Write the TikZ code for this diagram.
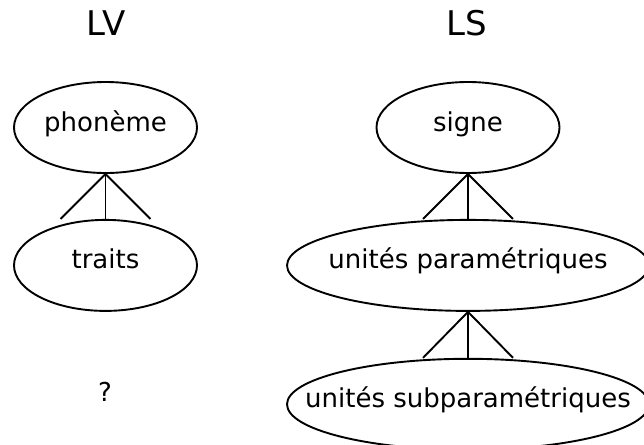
\documentclass[tikz,border=0pt]{standalone}
\usepackage{fontspec}
\setmainfont{DejaVu Sans}
\usetikzlibrary{positioning,shapes.geometric}
\tikzset{
  unittext/.style={font=\fontsize{26}{30}\selectfont, inner sep=0pt,
    text height=14pt, text depth=7pt},
  unit/.style={draw, ellipse, line width=1.9pt, inner sep=0pt,
    minimum width=183pt, minimum height=91pt},
  wideunit/.style={unit, minimum width=362pt},
  langlabel/.style={font=\fontsize{34}{40}\selectfont},
  branch/.style={line width=1.9pt}
}

\begin{document}
\begin{tikzpicture}[x=1pt, y=-1pt, node distance=45pt]
    \useasboundingbox (0,0) rectangle (644,444);
    % titles
    \node[langlabel] (lv) at (106,23) {LV};
    \node[langlabel] (ls) at (467,23) {LS};
    % oral side
    \node[unit] (phoneme) at (105.5,127.5) {};
    \node[unit, below=of phoneme] (traits) {};
    \node[unittext] (unknown) at (105,397.5) {?};
    % signed side
    \node[unit] (signe) at (468,127.5) {};
    \node[wideunit, below=of signe] (param) {};
    \node[wideunit, below=46pt of param] (subparam) {};
    % texts inside the ellipses
    \foreach \n/\txt in {phoneme/phonème, traits/traits, signe/signe,
        param/unités paramétriques, subparam/unités subparamétriques}
        \node[unittext] (\n_text) at (\n.center) {\txt};
    % feet of the branches
    \coordinate[left=45pt of traits.north] (traits_l);
    \coordinate[right=45pt of traits.north] (traits_r);
    \coordinate[left=45pt of param.north] (param_l);
    \coordinate[right=45pt of param.north] (param_r);
    \coordinate[left=45pt of subparam.north] (subparam_l);
    \coordinate[right=45pt of subparam.north] (subparam_r);
    % draw branches
    \foreach \top/\low in {phoneme/traits, signe/param, param/subparam} {
        \draw[branch] (\low_l) -- (\top.south) -- (\low_r);
        \draw[branch] (\top.south) -- (\low.north);
    }
\end{tikzpicture}
\end{document}
